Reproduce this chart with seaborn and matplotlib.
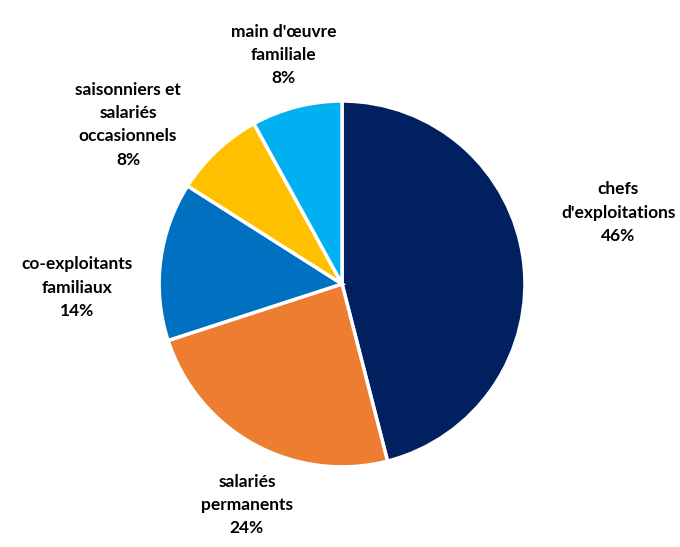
import matplotlib
matplotlib.use("Agg")
import matplotlib.pyplot as plt
import seaborn as sns

# donnees
categories = ["chefs\nd'exploitations", "salariés\npermanents", "co-exploitants\nfamiliaux",
              "saisonniers et\nsalariés\noccasionnels", "main d'œuvre\nfamiliale"]
parts = [46, 24, 14, 8, 8]
couleurs = ["#002060", "#ED7D31", "#0070C0", "#FFC000", "#00B0F0"]

# position des etiquettes (en rayons)
label_xy = [(1.51, 0.39), (-0.52, -1.21), (-1.45, -0.02), (-1.17, 0.87), (-0.32, 1.25)]

sns.set_theme(style="white")
plt.rcParams['font.family'] = ['Lato', 'DejaVu Sans']

fig = plt.figure(figsize=(6.8, 5.47), dpi=100)
ax = fig.add_axes([0.503 - 0.269, 0.481 - 0.3346, 0.538, 0.669])

labels = [f"{c}\n{p}%" for c, p in zip(categories, parts)]
wedges, texts = ax.pie(parts, labels=labels, colors=sns.color_palette(couleurs),
                       startangle=90, counterclock=False,
                       wedgeprops=dict(edgecolor="white", linewidth=2.5),
                       textprops=dict(fontsize=12.5, fontweight="bold", color="black"))
for t, xy in zip(texts, label_xy):
    t.set_position(xy)
    t.set_horizontalalignment("center")
    t.set_verticalalignment("center")
    t.set_multialignment("center")
    t.set_linespacing(1.55)

ax.set_xlim(-1, 1)
ax.set_ylim(-1, 1)
ax.set_aspect("equal")
ax.axis("off")

plt.savefig("out.png", dpi=100)
